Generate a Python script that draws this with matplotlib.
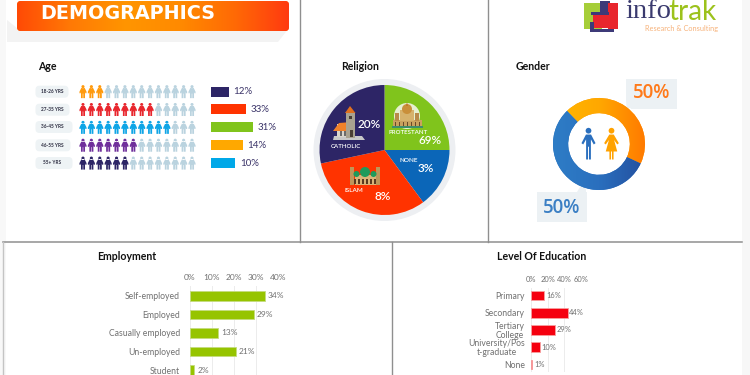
import numpy as np
import matplotlib
matplotlib.use('Agg')
import matplotlib.pyplot as plt
from matplotlib.colors import LinearSegmentedColormap
from matplotlib.patches import Rectangle, Circle, Polygon, FancyBboxPatch
from matplotlib.path import Path

# age panel
age_groups = ['18-26 YRS', '27-35 YRS', '36-45 YRS', '46-55 YRS', '55+ YRS']
age_icons = [3, 9, 11, 7, 6]
age_labels = ['12%', '33%', '31%', '14%', '10%']
age_bar_len = [17.7, 35.3, 42.3, 31.7, 24.3]  # bars in the picture don't follow the labels
age_icon_cols = ['#FF9A0D', '#E8262D', '#0FA5E6', '#6F2F9B', '#2D2566']
age_bar_cols = ['#2D2566', '#FF3300', '#80C41C', '#FFA800', '#00A8E8']
pill_right = [69, 70, 73, 71, 73]
n_icons = 14

# religion panel
religion_sizes = [90, 53.5, 114.5, 102]  # slice angles as drawn
religion_cols = ['#80C41C', '#0B66B8', '#FF3300', '#2D2566']

# gender panel
gender_sizes = [159, 201]

# bottom charts
emp_cats = ['Self-employed', 'Employed', 'Casually employed', 'Un-employed', 'Student']
emp_vals = [34, 29, 13, 21, 2]
edu_cats = ['Primary', 'Secondary', 'Tertiary\nCollege', 'University/Pos\nt-graduate', 'None']
edu_vals = [16, 44, 29, 10, 1]

plt.rcParams['font.family'] = ['Lato', 'DejaVu Sans']

W, H = 750, 375
fig = plt.figure(figsize=(7.5, 3.75), dpi=100)


def px_axes(x0, y0, x1, y1, **kw):
    return fig.add_axes([x0 / W, 1 - y1 / H, (x1 - x0) / W, (y1 - y0) / H], **kw)


# background axes in pixel coords
bg = px_axes(0, 0, W, H)
bg.axis('off')

# panel strips and lines
bg.add_patch(Rectangle((0, 0), 6, H, color='#F8F8F8', lw=0))
bg.add_patch(Rectangle((742, 0), 8, H, color='#F7F7F7', lw=0))
line_col = '#8F8F8F'
bg.plot([3, 742], [242, 242], color=line_col, lw=1.1)
bg.plot([300, 300], [0, 242], color=line_col, lw=1)
bg.plot([488, 488], [0, 242], color=line_col, lw=1)
bg.plot([392, 392], [242, 375], color=line_col, lw=1)
bg.plot([2.5, 2.5], [242, 375], color='#C4C4C4', lw=1)

# banner
bg.add_patch(Polygon([(17, 28), (289, 28), (278, 42), (7, 42), (7, 20)], color='#F3F3F3', lw=0))
banner = FancyBboxPatch((19, 3), 268, 26, boxstyle='round,pad=2,rounding_size=4', fc='#FF6A00', ec='none')
bg.add_patch(banner)
ban_cmap = LinearSegmentedColormap.from_list('ban', ['#FF4A05', '#FF7A05', '#FF9500', '#FF8A00', '#FF6A05', '#FF3A10'])
ban_grad = np.linspace(0, 1, 256).reshape(1, -1)
im = bg.imshow(ban_grad, extent=(17, 289, 31, 1), cmap=ban_cmap, aspect='auto', zorder=2)
im.set_clip_path(banner)
bg.text(40, 13.5, 'DEMOGRAPHICS', color='white', fontsize=13.8, fontweight='bold', va='center', ha='left', zorder=3,
        family='DejaVu Sans')

# logo
for x, y, w, h, c in [(584, 3, 18, 26, '#A6CE39'), (600, 1, 10, 12, '#3D3A78'), (608, 3, 10, 26, '#E8262D'),
                      (593, 15, 20, 13, '#E8262D'), (591, 12, 18, 3, '#3D3A78'), (590, 22, 4, 9, '#3D3A78'),
                      (590, 29, 24, 3, '#3D3A78')]:
    bg.add_patch(Rectangle((x, y), w, h, color=c, lw=0))
bg.text(625, 11.5, 'info', color='#3A3A6E', fontsize=20.5, family='Liberation Serif', va='center', ha='left')
bg.text(668, 11.5, 'trak', color='#9CC21C', fontsize=20, family='Lato', va='center', ha='left')
bg.text(681.5, 28.5, 'Research & Consulting', color='#F7B27A', fontsize=5.3, va='center', ha='center')

# titles
for x, y, t in [(47, 67, 'Age'), (360, 67, 'Religion'), (532.5, 66, 'Gender'), (126.5, 256.5, 'Employment'),
                (542, 256.5, 'Level Of Education')]:
    bg.text(x, y, t, color='#111111', fontsize=7.6, fontweight='bold', va='center', ha='center')

# person markers
head = Path.unit_circle()
man_head = Path(head.vertices * 0.18 + [0, 0.8], head.codes)
man_body = Path([(-0.16, 0.56), (0.16, 0.56), (0.44, 0.02), (0.33, -0.06), (0.15, 0.26), (0.15, -1), (0.03, -1),
                 (0.03, -0.2), (-0.03, -0.2), (-0.03, -1), (-0.15, -1), (-0.15, 0.26), (-0.33, -0.06),
                 (-0.44, 0.02), (-0.16, 0.56)])
man = Path.make_compound_path(man_head, man_body)
woman_body = Path([(-0.14, 0.56), (0.14, 0.56), (0.46, 0.02), (0.36, -0.06), (0.16, 0.22), (0.36, -0.5), (0.13, -0.5),
                   (0.13, -1), (0.03, -1), (0.03, -0.5), (-0.03, -0.5), (-0.03, -1), (-0.13, -1), (-0.13, -0.5),
                   (-0.36, -0.5), (-0.16, 0.22), (-0.36, -0.06), (-0.46, 0.02), (-0.14, 0.56)])
woman = Path.make_compound_path(man_head, woman_body)
chunky_body = Path([(-0.26, 0.56), (0.26, 0.56), (0.54, 0.0), (0.54, -0.25), (0.36, -0.25), (0.31, -0.02), (0.31, -1),
                    (0.04, -1), (0.04, -0.3), (-0.04, -0.3), (-0.04, -1), (-0.31, -1), (-0.31, -0.02), (-0.36, -0.25),
                    (-0.54, -0.25), (-0.54, 0), (-0.26, 0.56)])
chunky = Path.make_compound_path(Path(head.vertices * 0.24 + [0, 0.76], head.codes), chunky_body)

# age pictogram rows
age_ax = px_axes(78.8, 82.7, 196.2, 172)
age_ax.axis('off')
age_ax.set_xlim(-0.5, n_icons - 0.5)
age_ax.set_ylim(len(age_groups) - 0.5, -0.5)
for i, grp in enumerate(age_groups):
    xs = np.arange(n_icons)
    cols = [age_icon_cols[i] if k < age_icons[i] else '#BAD3DF' for k in xs]
    age_ax.scatter(xs, [i] * n_icons, marker=chunky, s=88, c=cols, linewidths=0)

rows_y = [91.7, 109.7, 127, 145.3, 163]
for y, r, grp in zip(rows_y, pill_right, age_groups):
    bg.add_patch(FancyBboxPatch((38, y - 3.5), r - 41, 7, boxstyle='round,pad=2.5,rounding_size=4', fc='#EEF3F5',
                                ec='none'))
    bg.text(52, y, grp, color='#2A2A3E', fontsize=3.4, fontweight='bold', va='center', ha='center')

# age bars
bar_ax = px_axes(211, 82.7, 300, 172)
bar_ax.axis('off')
bar_ax.set_xlim(0, 89)
bar_ax.set_ylim(len(age_groups) - 0.5, -0.5)
bar_ax.barh(range(5), age_bar_len, height=0.56, color=age_bar_cols)
for i, (v, t) in enumerate(zip(age_bar_len, age_labels)):
    bar_ax.text(v + 4.5, i, t, color='#3A3368', fontsize=7, va='center', ha='left')

# religion pie
bg.add_patch(Circle((384.5, 150), 71, color='#EDEFF2', lw=0))
pie_ax = px_axes(319.5, 85, 449.5, 215)
pie_ax.pie(religion_sizes, colors=religion_cols, startangle=90, counterclock=False, radius=1)
pie_ax.set_xlim(-1, 1)
pie_ax.set_ylim(-1, 1)
pie_ax.patch.set_alpha(0)

ic = px_axes(0, 0, W, H)
ic.axis('off')
ic.set_xlim(0, W)
ic.set_ylim(H, 0)
# church
ic.add_patch(Polygon([(333, 140), (365, 140), (362, 136), (334, 136)], color='#C8C8C8', lw=0))
ic.add_patch(Rectangle((337, 124), 15, 13, color='#D9D5CC', lw=0))
ic.add_patch(Polygon([(333, 131), (339, 123), (352, 122), (349, 131)], color='#F0812A', lw=0))
ic.add_patch(Rectangle((346, 113), 8.5, 25, color='#A9A290', lw=0))
ic.add_patch(Polygon([(345, 113), (350, 106), (355.5, 113)], color='#E0701F', lw=0))
ic.add_patch(Rectangle((349, 116), 2.5, 3, color='#4A3F35', lw=0))
ic.add_patch(Rectangle((350, 130), 3, 7, color='#4A3F35', lw=0))
for x in (340, 344):
    ic.add_patch(Rectangle((x, 131), 1.6, 5, color='#6A6A6A', lw=0))
# protestant church
ic.add_patch(Circle((407, 116), 13, color='#E6F0D0', lw=0))
ic.add_patch(Rectangle((393, 120), 29, 6, color='#C9A25E', lw=0))
ic.add_patch(Rectangle((392, 125.5), 31, 2.5, color='#3E8F6B', lw=0))
ic.add_patch(Rectangle((400, 110), 14, 11, color='#D6B26C', lw=0))
ic.add_patch(Circle((407, 109), 5, color='#C98F3A', lw=0))
ic.add_patch(Polygon([(406, 106), (407, 102), (408, 106)], color='#C0762A', lw=0))
ic.add_patch(Rectangle((395, 113), 4, 8, color='#B88A4A', lw=0))
ic.add_patch(Rectangle((415, 113), 4, 8, color='#B88A4A', lw=0))
for x in range(395, 421, 4):
    ic.add_patch(Rectangle((x, 122), 1.4, 3.5, color='#6A4A2A', lw=0))
# mosque
ic.add_patch(Rectangle((355, 175), 21, 10, color='#D9B478', lw=0))
ic.add_patch(Rectangle((350, 167), 3.5, 18, color='#BE965A', lw=0))
ic.add_patch(Rectangle((376, 167), 3.5, 18, color='#BE965A', lw=0))
ic.add_patch(Circle((365, 172), 5, color='#1E9A5B', lw=0))
ic.add_patch(Circle((356.5, 174), 3, color='#1E9A5B', lw=0))
ic.add_patch(Circle((373.5, 174), 3, color='#1E9A5B', lw=0))
for x in range(354, 376, 4):
    ic.add_patch(Rectangle((x, 179), 1.6, 5, color='#5A3A20', lw=0))

for x, y, t, s in [(369, 125, '20%', 8.5), (345.7, 146, 'CATHOLIC', 4.4), (407.7, 133, 'PROTESTANT', 4.4),
                   (429.7, 140, '69%', 8.5), (409, 160, 'NONE', 4.6), (426, 168, '3%', 8.5), (354, 190, 'ISLAM', 4.6),
                   (382.7, 196.7, '8%', 8.5)]:
    ic.text(x, y, t, color='white', fontsize=s, fontweight='semibold', va='center', ha='center')

# gender donut
don_ax = px_axes(553, 98, 645, 190)
wedges = don_ax.pie(gender_sizes, colors=['#FF9A00', '#2A6FBE'], startangle=134, counterclock=False, radius=1,
                    wedgeprops=dict(width=0.33))[0]
grad = np.linspace(0, 1, 128).reshape(1, -1)
or_map = LinearSegmentedColormap.from_list('or', ['#FFB800', '#FFA800', '#FF7A00'])
bl_map = LinearSegmentedColormap.from_list('bl', ['#2E7DC6', '#2A6FBE', '#24509F'])
for w, cm in zip(wedges, [or_map, bl_map]):
    g = don_ax.imshow(grad, extent=(-1, 1, -1, 1), cmap=cm, aspect='auto', zorder=3)
    g.set_clip_path(w)
don_ax.set_xlim(-1, 1)
don_ax.set_ylim(-1, 1)
don_ax.axis('off')

ic.scatter([587.7], [143], marker=man, s=530, c='#2A6FBE', linewidths=0, zorder=5)
ic.scatter([611], [143], marker=woman, s=530, c='#FFA200', linewidths=0, zorder=5)

# callouts
ic.add_patch(Rectangle((626, 79), 50.5, 29.5, color='#ECF1F4', lw=0))
ic.add_patch(Polygon([(626, 100), (626, 108), (631, 108), (627, 115)], color='white', lw=0))
ic.add_patch(Rectangle((537, 192), 50, 30, color='#ECF1F4', lw=0))
ic.add_patch(Polygon([(577, 192), (586, 192), (586, 182), (583, 182)], color='#ECF1F4', lw=0))
ic.text(651.7, 92.5, '50%', color='#FF7A1A', fontsize=13.5, fontweight='semibold', va='center', ha='center', family='Open Sans')
ic.text(562, 208, '50%', color='#3B7FC4', fontsize=13.5, fontweight='semibold', va='center', ha='center', family='Open Sans')


def hbar_panel(box, cats, vals, xmax, ticks, ylim, color, edge, pad, tick_size):
    ax = px_axes(*box)
    ax.patch.set_alpha(0)
    ax.set_xlim(0, xmax)
    ax.set_ylim(*ylim)
    ax.barh(range(len(vals)), vals, height=0.53, color=color, edgecolor=edge, linewidth=0.6, zorder=3)
    ax.set_xticks(ticks)
    ax.set_xticklabels([f'{t}%' for t in ticks])
    ax.set_yticks(range(len(cats)))
    ax.set_yticklabels(cats, linespacing=0.95)
    ax.xaxis.tick_top()
    ax.tick_params(length=0, labelsize=6.2, labelcolor='#707070')
    ax.tick_params(axis='y', pad=pad)
    ax.tick_params(axis='x', pad=3.5, labelsize=tick_size)
    for lab in ax.get_yticklabels():
        lab.set_multialignment('center')
    for s in ax.spines.values():
        s.set_visible(False)
    ax.grid(axis='x', color='#ECECEC', lw=0.7, zorder=0)
    for i, v in enumerate(vals):
        ax.text(v + xmax * 0.035, i, f'{v}%', color='#707070', fontsize=tick_size, va='center', ha='left', clip_on=False)
    return ax


hbar_panel((189.7, 286, 277.7, 375), emp_cats, emp_vals, 40, [0, 10, 20, 30, 40], (4.27, -0.54), '#96C400', '#C5DC80', 7, 6)
hbar_panel((531.3, 288, 580.7, 372), edu_cats, edu_vals, 60, [0, 20, 40, 60], (4.47, -0.47), '#F5000F', '#F7A0A0', 4.5, 5.4)

bg.set_xlim(0, W)
bg.set_ylim(H, 0)
fig.savefig('out.png', dpi=100)
